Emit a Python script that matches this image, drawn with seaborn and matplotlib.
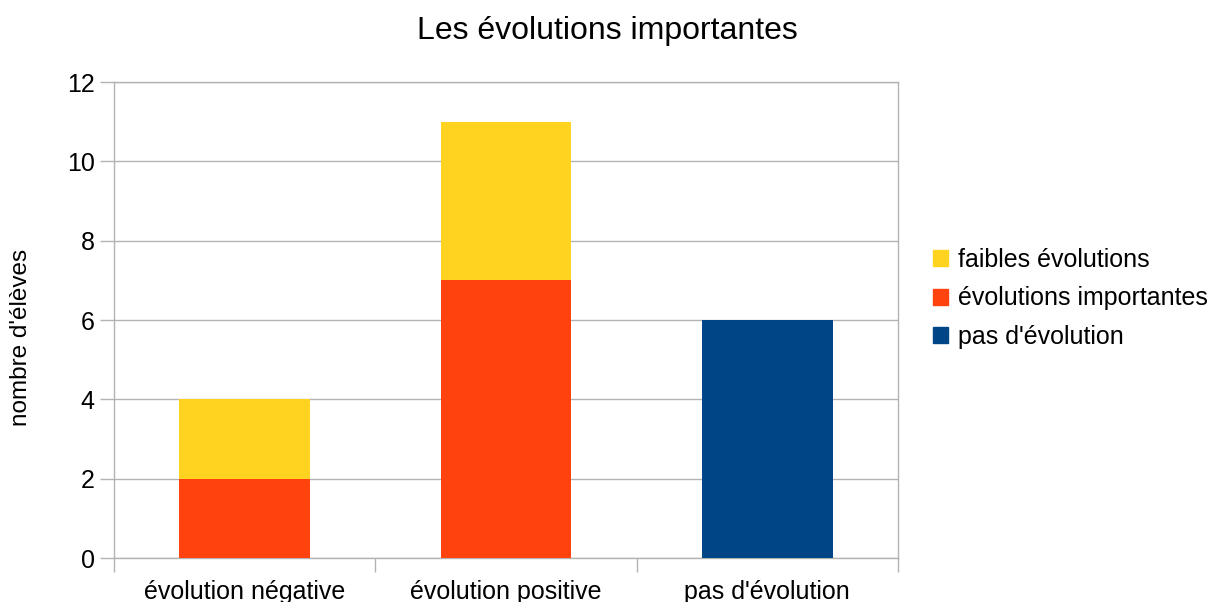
import numpy as np
import pandas as pd
import seaborn as sns
import matplotlib.pyplot as plt
from matplotlib.patches import Patch

# Data
categories = ["évolution négative", "évolution positive", "pas d'évolution"]
importantes = [2, 7, 0]
faibles = [2, 4, 0]
pas_evolution = [0, 0, 6]
series_labels = ["faibles évolutions", "évolutions importantes", "pas d'évolution"]
yticks = [0, 2, 4, 6, 8, 10, 12]

yellow = "#ffd320"
red = "#ff420e"
blue = "#004586"
grid_col = "#b3b3b3"

sns.set_style("white")
plt.rcParams['font.family'] = ['Liberation Sans', 'DejaVu Sans']
plt.rcParams['text.color'] = 'black'
plt.rcParams['xtick.color'] = grid_col
plt.rcParams['ytick.color'] = grid_col
plt.rcParams['xtick.labelcolor'] = 'black'
plt.rcParams['ytick.labelcolor'] = 'black'
plt.rcParams['axes.labelcolor'] = 'black'
plt.rcParams['xtick.bottom'] = True
plt.rcParams['ytick.left'] = True

df = pd.DataFrame({
    "cat": categories,
    "importantes": importantes,
    "faibles": faibles,
    "pas": pas_evolution,
})
df["top"] = df["importantes"] + df["faibles"]

fig = plt.figure(figsize=(12.18, 6.02), dpi=100)
ax = fig.add_axes([114 / 1218, 1 - 558 / 602, 784 / 1218, 476 / 602])

# stacked bars: draw the cumulative top first, then the lower segment over it
kw = dict(width=0.5, saturation=1, linewidth=0, ax=ax)
sns.barplot(data=df, x="cat", y="top", color=yellow, zorder=2, **kw)
sns.barplot(data=df, x="cat", y="importantes", color=red, zorder=3, **kw)
sns.barplot(data=df, x="cat", y="pas", color=blue, zorder=3, **kw)

ax.set_xlim(-0.5, 2.5)
ax.set_ylim(0, 12)
ax.set_yticks(yticks)
ax.yaxis.grid(True, color=grid_col, linewidth=1, zorder=0)
ax.set_axisbelow(True)

ax.set_xticks(range(len(categories)))
ax.set_xticklabels(categories)
ax.set_xticks([-0.5, 0.5, 1.5, 2.5], minor=True)
ax.tick_params(axis="x", which="major", length=0, labelsize=18, pad=16)
ax.tick_params(axis="x", which="minor", length=10, width=1)
ax.tick_params(axis="y", length=10, width=1, labelsize=18, pad=4)

for s in ax.spines.values():
    s.set_color(grid_col)
    s.set_linewidth(1)

ax.set_xlabel("")
ax.set_ylabel("")
fig.text(21 / 1218, 1 - 337 / 602, "nombre d'élèves", fontsize=17.5,
         rotation=90, ha="center", va="center")

fig.text(607 / 1218, 1 - 31 / 602, "Les évolutions importantes", fontsize=23,
         ha="center", va="center")

handles = [Patch(color=yellow), Patch(color=red), Patch(color=blue)]
fig.legend(handles, series_labels, loc="upper left", bbox_to_anchor=(933 / 1218, 1 - 248 / 602),
           frameon=False, fontsize=18, handlelength=0.6, handleheight=0.6,
           handletextpad=0.4, labelspacing=0.58, borderaxespad=0, borderpad=0)

fig.savefig("out.png", dpi=100)
